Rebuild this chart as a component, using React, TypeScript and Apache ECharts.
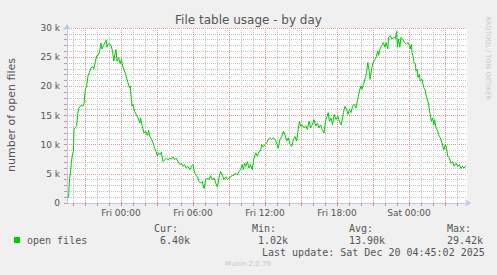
import React, { useEffect, useRef } from 'react';
import * as echarts from 'echarts';

const chartTitle = 'File table usage - by day';
const yAxisTitle = 'number of open files';
const seriesName = 'open files';
const statLabels = ['Cur:', 'Min:', 'Avg:', 'Max:'];
const statValues = ['6.40k', '1.02k', '13.90k', '29.42k'];
const lastUpdate = 'Last update: Sat Dec 20 04:45:02 2025';
const footerText = 'Munin 2.0.76';
const sideText = 'RRDTOOL / TOBI OETIKER';

// minutes relative to Fri 00:00
const xMin = -270;
const xMax = 1730;
const yMax = 30000;
const xLabelTicks = [0, 360, 720, 1080, 1440];
const dayNames = ['Fri', 'Sat'];

const minutes = [
  -270, -262, -258, -252, -248, -242, -238, -235, -228, -222, -216, -212, -205, -198, -190, -185,
  -178, -172, -165, -158, -150, -142, -135, -128, -120, -112, -106, -100, -95, -88, -80, -74,
  -70, -65, -56, -50, -42, -36, -32, -25, -20, -12, -4, 2, 8, 18, 25, 35,
  42, 46, 52, 55, 60, 68, 76, 85, 94, 98, 105, 115, 122, 132, 138, 144,
  152, 160, 168, 176, 182, 188, 195, 202, 210, 218, 226, 235, 244, 252, 260, 268,
  276, 285, 294, 302, 310, 318, 326, 335, 344, 352, 360, 365, 374, 382, 390, 398,
  406, 415, 424, 432, 440, 448, 456, 465, 474, 482, 490, 498, 506, 515, 524, 532,
  540, 548, 556, 565, 574, 582, 590, 598, 606, 612, 618, 624, 632, 640, 648, 656,
  665, 674, 682, 690, 698, 704, 712, 720, 728, 736, 745, 754, 762, 770, 778, 786,
  795, 804, 812, 820, 828, 836, 845, 854, 862, 870, 878, 886, 892, 898, 906, 915,
  924, 932, 940, 948, 956, 965, 974, 982, 990, 998, 1006, 1015, 1024, 1032, 1036, 1042,
  1050, 1058, 1066, 1075, 1084, 1092, 1100, 1105, 1112, 1120, 1128, 1135, 1142, 1150, 1158, 1166,
  1175, 1184, 1192, 1200, 1205, 1212, 1222, 1228, 1234, 1242, 1246, 1254, 1258, 1266, 1275, 1284,
  1288, 1295, 1304, 1312, 1320, 1325, 1334, 1338, 1346, 1355, 1364, 1372, 1378, 1382, 1388, 1394,
  1400, 1408, 1418, 1426, 1435, 1442, 1446, 1452, 1455, 1460, 1465, 1472, 1475, 1480, 1485, 1492,
  1496, 1505, 1514, 1522, 1526, 1534, 1538, 1546, 1552, 1558, 1564, 1568, 1575, 1584, 1588, 1596,
  1605, 1614, 1622, 1626, 1634, 1642, 1650, 1658, 1666, 1675, 1684, 1692, 1700, 1708, 1715, 1725,
];

const openFiles = [
  1020, 1020, 3800, 5500, 7000, 8500, 8800, 12600, 13000, 13200, 15300, 16200, 16500, 16800, 16600, 17000,
  19600, 20000, 21800, 22400, 23100, 23400, 23000, 24300, 25300, 25400, 26200, 27400, 26400, 27000, 27500, 27900,
  26700, 27200, 27300, 27000, 26000, 24300, 25200, 26300, 24300, 24900, 23900, 24600, 23500, 22600, 21800, 20600,
  19800, 20100, 17600, 16600, 16900, 15700, 15200, 14600, 13700, 14600, 13300, 12000, 12300, 11600, 12500, 11400,
  11000, 10300, 9400, 8800, 8000, 8600, 8300, 8700, 7100, 7400, 7700, 7400, 7700, 7500, 7900, 7400,
  7700, 7100, 6600, 6800, 6300, 6600, 6000, 6300, 5700, 6300, 6600, 5600, 4800, 4500, 3700, 3400,
  3700, 2500, 4000, 4300, 4000, 4700, 4000, 4300, 3400, 2700, 4300, 5400, 4800, 4000, 4500, 4000,
  4300, 4500, 4700, 4800, 5100, 4800, 5400, 5700, 6600, 5700, 6800, 6300, 7100, 6000, 6600, 5700,
  7700, 8600, 8000, 8800, 9000, 10000, 9600, 10000, 10300, 10900, 11200, 10900, 11200, 10900, 10300, 9400,
  10900, 11400, 12300, 11700, 10600, 11200, 10000, 9700, 10900, 11400, 10600, 12600, 14000, 13200, 13400, 12900,
  13200, 12600, 14000, 12900, 13400, 14300, 13200, 13700, 12900, 13400, 12600, 12000, 14300, 14900, 15500, 14000,
  14600, 13400, 15200, 14300, 14900, 14000, 13400, 14000, 15500, 16600, 16000, 15200, 16000, 15500, 16600, 16900,
  16300, 17800, 19200, 20100, 19500, 20300, 21500, 22400, 24100, 22400, 21200, 23200, 23800, 24400, 24900, 26100,
  25300, 26400, 27000, 27500, 26700, 27500, 26400, 28400, 28700, 28100, 28400, 28200, 29420, 26700, 28100, 26700,
  28400, 28100, 27500, 27200, 27500, 27000, 26400, 27200, 25800, 25200, 24100, 23800, 22600, 22900, 21500, 22100,
  20900, 21200, 19800, 19200, 18300, 17500, 16900, 15200, 14000, 14600, 13400, 14300, 12900, 12300, 11700, 11200,
  10300, 9100, 10000, 9700, 8000, 7700, 6800, 7100, 6300, 6800, 6300, 6600, 5900, 6300, 6000, 6400,
];

// hourly ticks: every third one (from -180) is a major 3-hour line
const hourTicks: number[] = [];
for (let m = -240; m <= 1680; m += 60) hourTicks.push(m);

const textColor = '#555';
const lineColor = '#00cc00';
const axisBlue = '#c0c8f0';
const majorGrid = '#e49090';
const minorGrid = '#c4c4c4';

function fmtX(v: number): string {
  const day = dayNames[Math.floor(v / 1440)] || '';
  const within = ((v % 1440) + 1440) % 1440;
  const hh = String(Math.floor(within / 60)).padStart(2, '0');
  const mm = String(within % 60).padStart(2, '0');
  return `${day} ${hh}:${mm}`;
}

export default function App() {
  const ref = useRef<HTMLDivElement>(null);
  useEffect(() => {
    if (!ref.current) return;
    const chart = echarts.init(ref.current, undefined, { renderer: 'svg' });
    const data = minutes.map((m, i) => [m, openFiles[i]]);
    const mono = '10px "DejaVu Sans Mono"';
    const labelX = [154, 252, 349, 447];
    const valueX = [160, 258, 349, 447];
    const graphics: any[] = [
      {
        type: 'text',
        x: 11,
        y: 115,
        rotation: Math.PI / 2,
        style: { text: yAxisTitle, x: 0, y: 0, fill: textColor, font: '11px "DejaVu Sans"', align: 'center', verticalAlign: 'middle' },
      },
      {
        type: 'text',
        x: 488,
        y: 58,
        rotation: -Math.PI / 2,
        style: { text: sideText, x: 0, y: 0, fill: '#c8c8c8', font: '6.5px "DejaVu Sans"', align: 'center', verticalAlign: 'middle' },
      },
      { type: 'rect', shape: { x: 14, y: 237, width: 6, height: 6 }, style: { fill: lineColor } },
      {
        type: 'text',
        style: { text: seriesName, x: 27, y: 240, fill: textColor, font: mono, align: 'left', verticalAlign: 'middle' },
      },
      {
        type: 'text',
        style: { text: lastUpdate, x: 262, y: 252, fill: textColor, font: mono, align: 'left', verticalAlign: 'middle' },
      },
      {
        type: 'text',
        style: { text: footerText, x: 248, y: 264, fill: '#c8c8c8', font: '7px "DejaVu Sans"', align: 'center', verticalAlign: 'middle' },
      },
    ];
    statLabels.forEach((s, i) => {
      graphics.push({
        type: 'text',
        style: { text: s, x: labelX[i], y: 228, fill: textColor, font: mono, align: 'left', verticalAlign: 'middle' },
      });
      graphics.push({
        type: 'text',
        style: { text: statValues[i], x: valueX[i], y: 240, fill: textColor, font: mono, align: 'left', verticalAlign: 'middle' },
      });
    });

    chart.setOption({
      animation: false,
      backgroundColor: '#f0f0f0',
      title: {
        text: chartTitle,
        left: 'center',
        top: 9,
        textStyle: { color: textColor, fontFamily: 'DejaVu Sans', fontSize: 12, fontWeight: 'normal' },
      },
      grid: { left: 67, top: 28, width: 400, height: 175, show: true, backgroundColor: '#ffffff', borderWidth: 0 },
      xAxis: {
        type: 'value',
        position: 'bottom',
        min: xMin,
        max: xMax,
        axisLine: {
          show: true,
          onZero: false,
          lineStyle: { color: axisBlue, width: 1 },
          symbol: ['none', 'arrow'],
          symbolSize: [6, 6],
          symbolOffset: [0, 4],
        },
        axisTick: { show: true, length: 3, customValues: hourTicks, lineStyle: { color: '#d09090' } },
        axisLabel: {
          show: true,
          customValues: xLabelTicks,
          formatter: (v: number) => fmtX(v),
          color: textColor,
          fontFamily: 'DejaVu Sans',
          fontSize: 9,
          margin: 5,
        },
        splitArea: { show: false },
        splitLine: { show: true, lineStyle: { color: [minorGrid, majorGrid, minorGrid], type: [1, 1], width: 1 } },
      },
      yAxis: {
        type: 'value',
        position: 'left',
        min: 0,
        max: yMax,
        interval: 1000,
        axisLine: {
          show: true,
          onZero: false,
          lineStyle: { color: axisBlue, width: 1 },
          symbol: ['none', 'arrow'],
          symbolSize: [6, 6],
          symbolOffset: [0, 4],
        },
        axisTick: { show: true, length: 3, lineStyle: { color: '#d09090' } },
        axisLabel: {
          color: textColor,
          fontFamily: 'DejaVu Sans',
          fontSize: 9,
          margin: 7,
          formatter: (v: number) => (v % 5000 !== 0 ? '' : v === 0 ? '0' : `${v / 1000} k`),
        },
        splitArea: { show: false },
        splitLine: {
          show: true,
          lineStyle: { color: [majorGrid, minorGrid, minorGrid, minorGrid, minorGrid], type: [1, 1], width: 1 },
        },
      },
      series: [
        {
          name: seriesName,
          type: 'line',
          data,
          showSymbol: false,
          symbol: 'none',
          lineStyle: { color: lineColor, width: 1 },
          itemStyle: { color: lineColor },
          z: 5,
        },
      ],
      graphic: graphics,
    });
    return () => chart.dispose();
  }, []);
  return <div ref={ref} style={{ position: 'fixed', left: 0, top: 0, width: 497, height: 275 }} />;
}
